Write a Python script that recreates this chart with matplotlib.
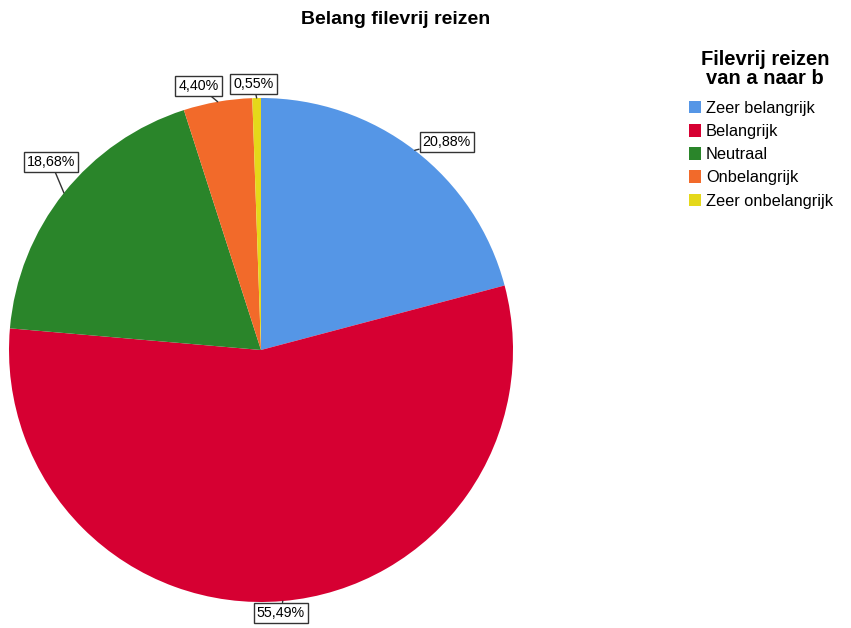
import matplotlib.pyplot as plt
import numpy as np

plt.rcParams['font.family'] = ['Liberation Sans', 'DejaVu Sans']

# data
categories = ['Zeer belangrijk', 'Belangrijk', 'Neutraal', 'Onbelangrijk', 'Zeer onbelangrijk']
percentages = [20.88, 55.49, 18.68, 4.40, 0.55]
labels = ['20,88%', '55,49%', '18,68%', '4,40%', '0,55%']
colors = ['#5596E6', '#D60032', '#2A852A', '#F26A2A', '#E5D81A']

W, H = 851, 628
fig = plt.figure(figsize=(W / 100, H / 100), dpi=100)
ax = fig.add_axes([0, 0, 1, 1])

cx, cy, r = 261, H - 350, 252
wedges, _ = ax.pie(percentages, colors=colors, startangle=90, counterclock=False,
                   center=(cx, cy), radius=r, frame=True)
ax.set_xlim(0, W)
ax.set_ylim(0, H)
ax.set_aspect('equal')
ax.axis('off')

# label box offsets (pixels) relative to slice edge point
offsets = [(8, 1, 'left', 'bottom'),
           (-2, -5, 'center', 'top'),
           (-13, 24, 'center', 'bottom'),
           (-19, 9, 'center', 'bottom'),
           (-3, 7, 'center', 'bottom')]
for w, lab, (dx, dy, ha, va) in zip(wedges, labels, offsets):
    ang = np.deg2rad((w.theta1 + w.theta2) / 2)
    px, py = cx + r * np.cos(ang), cy + r * np.sin(ang)
    ax.annotate(lab, xy=(px, py), xytext=(px + dx, py + dy), textcoords='data',
                ha=ha, va=va, fontsize=10.3,
                bbox=dict(boxstyle='square,pad=0.22', fc='white', ec='#333333', lw=1),
                arrowprops=dict(arrowstyle='-', color='#333333', lw=1, shrinkA=0, shrinkB=0))

fig.text(396 / W, 1 - 19 / H, 'Belang filevrij reizen', ha='center', va='center',
         fontsize=14, fontweight='bold')

fig.text(765 / W, 1 - 69 / H, 'Filevrij reizen\nvan a naar b', ha='center', va='center',
         fontsize=14.5, fontweight='bold', linespacing=1.0)

leg = fig.legend(wedges, categories, loc='upper left', bbox_to_anchor=(674 / W, 1 - 86 / H),
                 frameon=False, fontsize=11.8, handlelength=0.75, handleheight=0.8,
                 handletextpad=0.3, labelspacing=0.5)

fig.savefig('out.png', dpi=100)
